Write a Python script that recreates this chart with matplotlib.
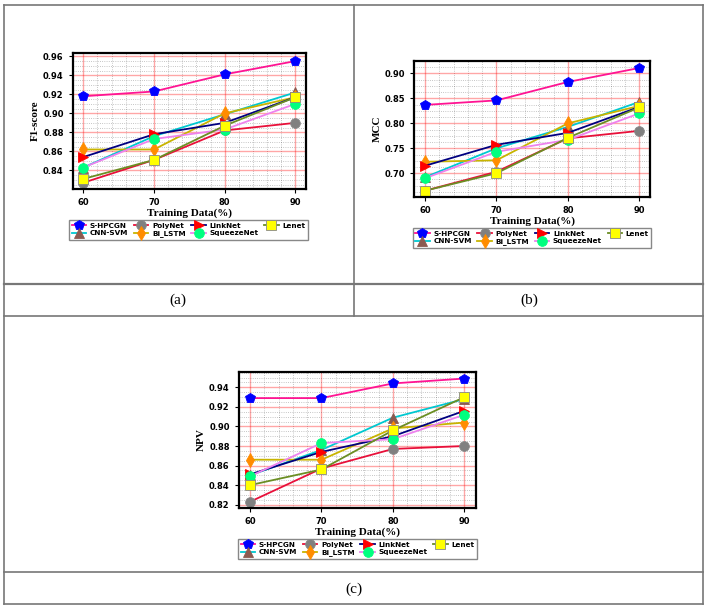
import matplotlib
matplotlib.use("Agg")
from matplotlib import pyplot as plt
from matplotlib.lines import Line2D
from matplotlib.ticker import AutoMinorLocator
import numpy as np

# Dados
training = [60, 70, 80, 90]
methods = ['S-HPCGN', 'CNN-SVM', 'PolyNet', 'Bi_LSTM', 'LinkNet', 'SqueezeNet', 'Lenet']

f1_shpcgn = [0.918, 0.923, 0.941, 0.955]
f1_cnnsvm = [0.843, 0.876, 0.899, 0.922]
f1_polynet = [0.827, 0.851, 0.882, 0.890]
f1_bilstm = [0.862, 0.862, 0.900, 0.917]
f1_linknet = [0.854, 0.878, 0.890, 0.917]
f1_squeeze = [0.843, 0.873, 0.883, 0.910]
f1_lenet = [0.831, 0.851, 0.887, 0.917]

mcc_shpcgn = [0.837, 0.846, 0.883, 0.911]
mcc_cnnsvm = [0.692, 0.750, 0.793, 0.843]
mcc_polynet = [0.665, 0.703, 0.770, 0.785]
mcc_bilstm = [0.723, 0.726, 0.800, 0.835]
mcc_linknet = [0.715, 0.757, 0.781, 0.833]
mcc_squeeze = [0.690, 0.743, 0.767, 0.820]
mcc_lenet = [0.665, 0.700, 0.771, 0.832]

npv_shpcgn = [0.929, 0.929, 0.944, 0.949]
npv_cnnsvm = [0.850, 0.876, 0.909, 0.928]
npv_polynet = [0.823, 0.857, 0.877, 0.880]
npv_bilstm = [0.866, 0.866, 0.898, 0.904]
npv_linknet = [0.851, 0.874, 0.890, 0.916]
npv_squeeze = [0.849, 0.883, 0.887, 0.912]
npv_lenet = [0.840, 0.856, 0.896, 0.930]

f1_ticks = [0.84, 0.86, 0.88, 0.90, 0.92, 0.94, 0.96]
mcc_ticks = [0.70, 0.75, 0.80, 0.85, 0.90]
npv_ticks = [0.82, 0.84, 0.86, 0.88, 0.90, 0.92, 0.94]

# estilos: cor da linha, marcador, cor do marcador
estilos = {
    'S-HPCGN': ('#ff1493', 'p', '#0000ff'),
    'CNN-SVM': ('#00c8d0', '^', '#8b5a50'),
    'PolyNet': ('#e8103a', 'o', '#808080'),
    'Bi_LSTM': ('#c8b400', 'd', '#ff8c00'),
    'LinkNet': ('#000080', '>', '#ff0000'),
    'SqueezeNet': ('#ee82ee', 'o', '#00ff7f'),
    'Lenet': ('#6b8e23', 's', '#ffff00'),
}

W, H = 708, 609
fig = plt.figure(figsize=(W / 100, H / 100), dpi=100)


def px(x0, y0, x1, y1):
    return [x0 / W, 1 - y1 / H, (x1 - x0) / W, (y1 - y0) / H]


def painel(rect, series, ylabel, yticks, ylim, xlim, leg_center):
    ax = fig.add_axes(rect)
    handles = []
    for nome, vals in zip(methods, series):
        cor, mk, mcor = estilos[nome]
        h, = ax.plot(training, vals, color=cor, lw=1.3, marker=mk, ms=7,
                     mfc=mcor, mec='#888888' if nome in ('Lenet', 'PolyNet') else mcor,
                     mew=0.6, label=nome)
        handles.append(h)
    ax.set_xlim(*xlim)
    ax.set_ylim(*ylim)
    ax.set_xticks(training)
    ax.set_yticks(yticks)
    ax.set_yticklabels(['%.2f' % t for t in yticks])
    ax.xaxis.set_minor_locator(AutoMinorLocator(5))
    ax.yaxis.set_minor_locator(AutoMinorLocator(4))
    ax.grid(which='major', color='red', alpha=0.35, lw=1.0)
    ax.grid(which='minor', color='black', alpha=0.3, ls=':', lw=0.6)
    ax.set_axisbelow(True)
    ax.tick_params(which='major', labelsize=6, length=3, width=0.8)
    ax.tick_params(which='minor', length=0)
    for lab in ax.get_xticklabels() + ax.get_yticklabels():
        lab.set_fontweight('bold')
    for s in ax.spines.values():
        s.set_linewidth(1.6)
    ax.set_xlabel('Training Data(%)', family='Liberation Serif', fontweight='bold',
                  fontsize=8, labelpad=1)
    ax.set_ylabel(ylabel, family='Liberation Serif', fontweight='bold',
                  fontsize=8, labelpad=2)
    fig.legend(handles=handles, loc='center', bbox_to_anchor=leg_center, ncol=4,
               prop={'size': 5.2, 'weight': 'bold'}, fancybox=False,
               edgecolor='#888888', handlelength=2.0, columnspacing=0.8,
               handletextpad=0.5, borderpad=0.35, labelspacing=0.2, framealpha=1)
    return ax


painel(px(72.7, 53, 306, 189),
       [f1_shpcgn, f1_cnnsvm, f1_polynet, f1_bilstm, f1_linknet, f1_squeeze, f1_lenet],
       'F1-score', f1_ticks, (0.8204, 0.9635), (58.5, 91.5),
       (188.5 / W, 1 - 230 / H))

painel(px(414, 61, 650, 196.7),
       [mcc_shpcgn, mcc_cnnsvm, mcc_polynet, mcc_bilstm, mcc_linknet, mcc_squeeze, mcc_lenet],
       'MCC', mcc_ticks, (0.653, 0.925), (58.46, 91.5),
       (532 / W, 1 - 238 / H))

painel(px(238.7, 371.7, 476, 508),
       [npv_shpcgn, npv_cnnsvm, npv_polynet, npv_bilstm, npv_linknet, npv_squeeze, npv_lenet],
       'NPV', npv_ticks, (0.8166, 0.956), (58.41, 91.63),
       (357.5 / W, 1 - 549 / H))

# linhas da tabela
def linha(x0, y0, x1, y1, lw=1.2):
    fig.add_artist(Line2D([x0 / W, x1 / W], [1 - y0 / H, 1 - y1 / H],
                          color='#777777', lw=lw, transform=fig.transFigure))

linha(4, 5, 703, 5)
linha(4, 5, 4, 604)
linha(703, 5, 703, 604)
linha(4, 604, 703, 604)
linha(354, 5, 354, 316)
linha(4, 284, 703, 284, lw=1.6)
linha(4, 316, 703, 316)
linha(4, 572, 703, 572)

fig.text(178 / W, 1 - 300 / H, '(a)', family='Liberation Serif', fontsize=11,
         ha='center', va='center')
fig.text(529 / W, 1 - 300 / H, '(b)', family='Liberation Serif', fontsize=11,
         ha='center', va='center')
fig.text(354 / W, 1 - 589 / H, '(c)', family='Liberation Serif', fontsize=11,
         ha='center', va='center')

fig.savefig('out.png', dpi=100)
